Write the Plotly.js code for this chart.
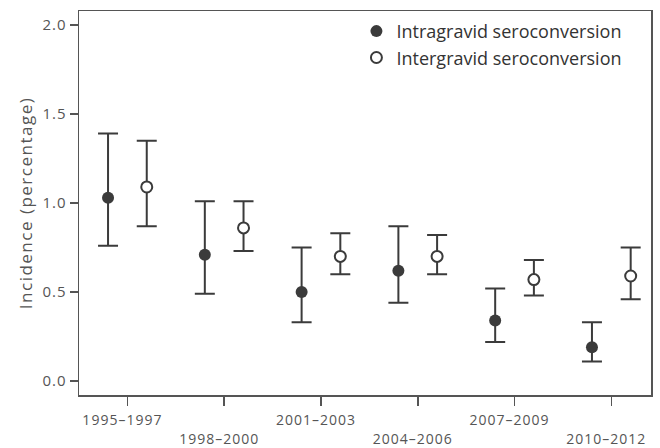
<!DOCTYPE html>
<html>
<head>
<meta charset="utf-8">
<script src="https://cdn.plot.ly/plotly-3.0.1.min.js"></script>
<style>
html,body{margin:0;padding:0;background:#fff}
#chart{width:660px;height:448px}
#chart .xtick text, #chart .ytick text{letter-spacing:1px}
#chart .g-ytitle text{letter-spacing:1.5px}
</style>
</head>
<body>
<div id="chart"></div>
<script>
const periods = ["1995–1997","1998–2000","2001–2003","2004–2006","2007–2009","2010–2012"];
const intraValue = [1.03, 0.71, 0.50, 0.62, 0.34, 0.19];
const intraLow   = [0.76, 0.49, 0.33, 0.44, 0.22, 0.11];
const intraHigh  = [1.39, 1.01, 0.75, 0.87, 0.52, 0.33];
const interValue = [1.09, 0.86, 0.70, 0.70, 0.57, 0.59];
const interLow   = [0.87, 0.73, 0.60, 0.60, 0.48, 0.46];
const interHigh  = [1.35, 1.01, 0.83, 0.82, 0.68, 0.75];
const yTicks = [0, 0.5, 1.0, 1.5, 2.0];

const dark = "#3b3b3b";
const idx = periods.map((_, i) => i);
const offset = 0.2;

function trace(name, vals, lo, hi, sign, filled) {
  return {
    type: "scatter", mode: "markers", name: name,
    x: idx.map(i => i + sign * offset),
    y: vals,
    error_y: {
      type: "data", symmetric: false,
      array: vals.map((v, i) => hi[i] - v),
      arrayminus: vals.map((v, i) => v - lo[i]),
      color: dark, thickness: 2, width: 10
    },
    marker: filled
      ? {symbol: "circle", size: 12, color: dark, line: {color: dark, width: 0}}
      : {symbol: "circle", size: 11, color: "#ffffff", line: {color: dark, width: 2}},
    hoverinfo: "skip"
  };
}

const data = [
  trace("Intragravid seroconversion", intraValue, intraLow, intraHigh, -1, true),
  trace("Intergravid seroconversion", interValue, interLow, interHigh, 1, false)
];

const tickFont = {family: "Open Sans, sans-serif", size: 14, color: "#555555"};

const layout = {
  width: 660, height: 448,
  margin: {l: 79, r: 9, t: 11, b: 53},
  paper_bgcolor: "#ffffff", plot_bgcolor: "#ffffff",
  showlegend: true,
  legend: {
    x: 0.485, y: 0.995, xanchor: "left", yanchor: "top",
    font: {family: "Open Sans, sans-serif", size: 18, color: "#333333"},
    bgcolor: "rgba(0,0,0,0)", tracegroupgap: 0, itemwidth: 30
  },
  xaxis: {
    range: [-0.5, 5.41],
    tickmode: "array",
    tickvals: idx,
    ticktext: periods.map((p, i) => i % 2 === 1 ? "<br>" + p : p),
    ticks: "outside", ticklen: 9, tickwidth: 1.5, tickcolor: "#555555",
    ticklabelshift: -5, ticklabelstandoff: 3,
    showgrid: false, zeroline: false,
    showline: true, linecolor: "#555555", linewidth: 1.5, mirror: true,
    tickfont: tickFont
  },
  yaxis: {
    range: [-0.078, 2.078],
    tickmode: "array",
    tickvals: yTicks,
    ticktext: yTicks.map(v => v.toFixed(1)),
    ticks: "outside", ticklen: 8, tickwidth: 1.5, tickcolor: "#555555",
    showgrid: false, zeroline: false,
    showline: true, linecolor: "#555555", linewidth: 1.5, mirror: true,
    tickfont: {family: "Open Sans, sans-serif", size: 15, color: "#555555"},
    title: {text: "Incidence (percentage)", font: {family: "Open Sans, sans-serif", size: 17, color: "#555555"}, standoff: 8}
  }
};

Plotly.newPlot("chart", data, layout, {displayModeBar: false, staticPlot: true});
</script>
</body>
</html>
